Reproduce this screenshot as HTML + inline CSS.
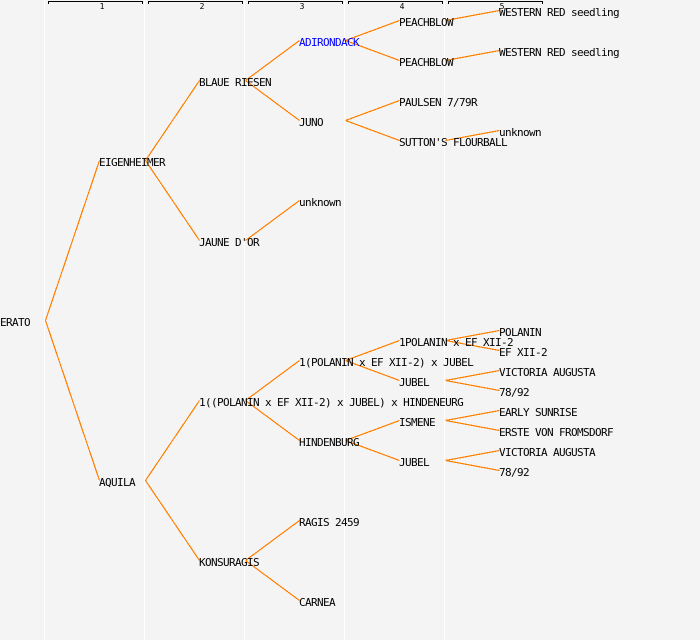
<!DOCTYPE html>
<html><head><meta charset="utf-8"><style>
html,body{margin:0;padding:0;background:#f4f4f4}
svg{display:block}
text{font-family:"DejaVu Sans Mono","Liberation Mono",monospace;font-size:11px;letter-spacing:-.62px;fill:#000}
.n{font-size:8px;letter-spacing:0;text-anchor:middle}
</style></head><body>
<svg width="700" height="640" viewBox="0 0 700 640" xmlns="http://www.w3.org/2000/svg">
<rect width="700" height="640" fill="#f4f4f4"/>
<g fill="#fff"><rect x="44" width="1" height="640"/><rect x="144" width="1" height="640"/><rect x="244" width="1" height="640"/><rect x="344" width="1" height="640"/><rect x="444" width="1" height="640"/></g>
<g fill="none" stroke="#000" shape-rendering="crispEdges"><path d="M48.500 4V1.500H142.500V4"/><path d="M148.500 4V1.500H242.500V4"/><path d="M248.500 4V1.500H342.500V4"/><path d="M348.500 4V1.500H442.500V4"/><path d="M448.500 4V1.500H542.500V4"/></g>
<text class="n" x="102" y="9">1</text><text class="n" x="202" y="9">2</text><text class="n" x="302" y="9">3</text><text class="n" x="402" y="9">4</text><text class="n" x="502" y="9">5</text>
<path transform="translate(0.5 0.5)" fill="none" stroke="#ff8000" stroke-width="1.2" shape-rendering="crispEdges" d="M45 320L99 160M45 320L99 480M145 160L199 80M145 160L199 240M145 480L199 400M145 480L199 560M245 80L299 40M245 80L299 120M245 240L299 200M245 400L299 360M245 400L299 440M245 560L299 520M245 560L299 600M345 40L399 20M345 40L399 60M345 120L399 100M345 120L399 140M345 360L399 340M345 360L399 380M345 440L399 420M345 440L399 460M445 20L499 10M445 60L499 50M445 140L499 130M445 340L499 330M445 340L499 350M445 380L499 370M445 380L499 390M445 420L499 410M445 420L499 430M445 460L499 450M445 460L499 470"/>
<text x="0" y="326">ERATO</text>
<text x="99" y="166">EIGENHEIMER</text>
<text x="99" y="486">AQUILA</text>
<text x="199" y="86">BLAUE RIESEN</text>
<text x="199" y="246">JAUNE D'OR</text>
<text x="199" y="406">1((POLANIN x EF XII-2) x JUBEL) x HINDENEURG</text>
<text x="199" y="566">KONSURAGIS</text>
<text x="299" y="46" style="fill:#0000ff">ADIRONDACK</text>
<text x="299" y="126">JUNO</text>
<text x="299" y="206">unknown</text>
<text x="299" y="366">1(POLANIN x EF XII-2) x JUBEL</text>
<text x="299" y="446">HINDENBURG</text>
<text x="299" y="526">RAGIS 2459</text>
<text x="299" y="606">CARNEA</text>
<text x="399" y="26">PEACHBLOW</text>
<text x="399" y="66">PEACHBLOW</text>
<text x="399" y="106">PAULSEN 7/79R</text>
<text x="399" y="146">SUTTON'S FLOURBALL</text>
<text x="399" y="346">1POLANIN x EF XII-2</text>
<text x="399" y="386">JUBEL</text>
<text x="399" y="426">ISMENE</text>
<text x="399" y="466">JUBEL</text>
<text x="499" y="16">WESTERN RED seedling</text>
<text x="499" y="56">WESTERN RED seedling</text>
<text x="499" y="136">unknown</text>
<text x="499" y="336">POLANIN</text>
<text x="499" y="356">EF XII-2</text>
<text x="499" y="376">VICTORIA AUGUSTA</text>
<text x="499" y="396">78/92</text>
<text x="499" y="416">EARLY SUNRISE</text>
<text x="499" y="436">ERSTE VON FROMSDORF</text>
<text x="499" y="456">VICTORIA AUGUSTA</text>
<text x="499" y="476">78/92</text>
</svg>
</body></html>
